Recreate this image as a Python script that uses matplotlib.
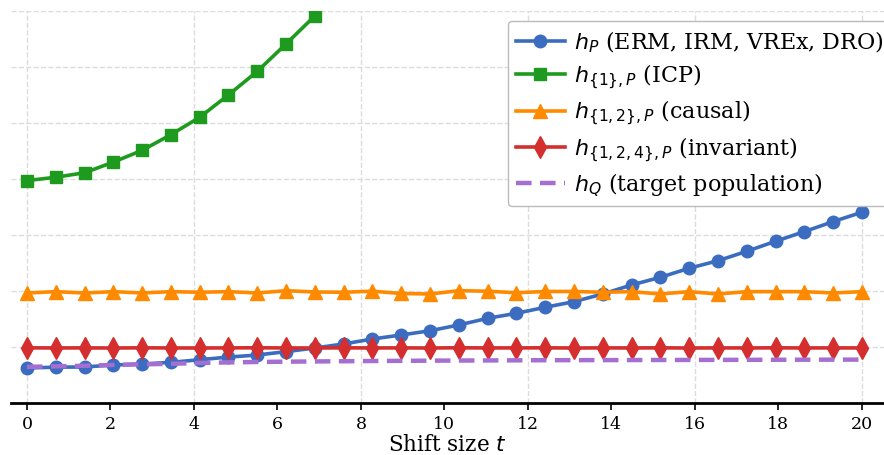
import matplotlib
matplotlib.use("Agg")
import matplotlib.pyplot as plt
import numpy as np
from matplotlib.ticker import MultipleLocator

plt.rcParams["font.family"] = "DejaVu Serif"

# shift sizes (30 runs from 0 to 20)
t = np.linspace(0, 20, 30)

# test error of each predictor
h_P = [0.625, 0.640, 0.643, 0.679, 0.696, 0.726, 0.773, 0.820, 0.857, 0.917,
       0.982, 1.054, 1.143, 1.214, 1.290, 1.393, 1.512, 1.601, 1.709, 1.809,
       1.946, 2.107, 2.244, 2.405, 2.540, 2.708, 2.887, 3.059, 3.238, 3.405]
h_1 = [3.97, 4.03, 4.11, 4.30, 4.51, 4.79, 5.10, 5.50, 5.92, 6.41, 6.91, 7.45]
h_12 = [1.964, 1.988, 1.964, 1.988, 1.964, 1.988, 1.977, 1.988, 1.964, 2.005,
        1.982, 1.977, 1.996, 1.955, 1.946, 2.005, 1.996, 1.968, 1.991, 1.991,
        1.977, 1.988, 1.946, 1.988, 1.946, 1.988, 1.988, 1.988, 1.964, 1.988]
h_124 = [0.985, 0.983, 0.984, 0.982, 0.985, 0.983, 0.982, 0.984, 0.986, 0.983,
         0.982, 0.985, 0.983, 0.984, 0.982, 0.986, 0.983, 0.984, 0.985, 0.982,
         0.984, 0.983, 0.985, 0.982, 0.984, 0.983, 0.985, 0.983, 0.984, 0.983]
h_Q = [0.645, 0.655, 0.665, 0.680, 0.690, 0.700, 0.715, 0.725, 0.732, 0.738,
       0.742, 0.746, 0.750, 0.753, 0.756, 0.758, 0.760, 0.762, 0.764, 0.765,
       0.766, 0.767, 0.768, 0.769, 0.770, 0.771, 0.772, 0.773, 0.774, 0.775]

fig = plt.figure(figsize=(8.84, 4.56), dpi=100)
ax = fig.add_axes([0.013, 0.114, 0.987, 0.86])

lw = 2.6
ax.plot(t, h_P, color="#3b6cc0", marker="o", ms=9, lw=lw,
        label=r"$h_P$ (ERM, IRM, VREx, DRO)")
ax.plot(t[:len(h_1)], h_1, color="#1e9a1e", marker="s", ms=8, lw=lw,
        label=r"$h_{\{1\},P}$ (ICP)")
ax.plot(t, h_12, color="#ff8a00", marker="^", ms=9.5, lw=lw,
        label=r"$h_{\{1,2\},P}$ (causal)")
ax.plot(t, h_124, color="#d42e2e", marker="d", ms=11, lw=lw,
        label=r"$h_{\{1,2,4\},P}$ (invariant)")
ax.plot(t, h_Q, color="#a56fd2", ls=(0, (3.5, 1.9)), lw=3.2,
        label=r"$h_Q$ (target population)")

ax.set_xlim(-0.37, 20.53)
ax.set_ylim(0, 7)

ax.xaxis.set_major_locator(MultipleLocator(2))
ax.xaxis.set_minor_locator(MultipleLocator(4))
ax.xaxis.remove_overlapping_locs = False
ax.yaxis.set_major_locator(MultipleLocator(1))
ax.tick_params(axis="x", which="major", labelsize=12.5, length=5, width=1.2)
ax.tick_params(axis="x", which="minor", length=0)
ax.tick_params(axis="y", left=False, labelleft=False)

ax.grid(False)
ax.grid(True, axis="x", which="minor", ls="--", color="#dcdcdc", lw=1)
ax.grid(True, axis="y", which="major", ls="--", color="#dcdcdc", lw=1)
ax.set_axisbelow(True)

for side in ["left", "right", "top"]:
    ax.spines[side].set_visible(False)
ax.spines["bottom"].set_linewidth(2)

ax.set_xlabel(r"Shift size $t$", fontsize=15.5, labelpad=1)

leg = ax.legend(loc="upper left", bbox_to_anchor=(0.569, 0.974),
                borderaxespad=0, fontsize=16, handlelength=2.2,
                handletextpad=0.4, labelspacing=0.33, borderpad=0.35,
                framealpha=1)
leg.get_frame().set_edgecolor("#bbbbbb")

fig.savefig("out.png", dpi=100)
